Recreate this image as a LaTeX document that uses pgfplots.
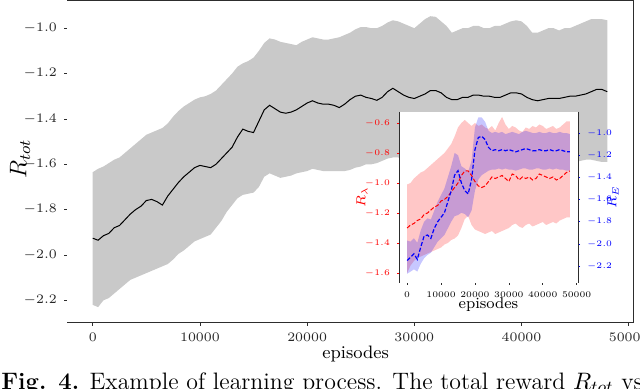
\RequirePackage{fix-cm}
\documentclass[border=0pt]{standalone}
\usepackage{pgfplots}
\pgfplotsset{compat=1.18}
\usepackage{pgfplotstable}
\usepgfplotslibrary{fillbetween}
\usetikzlibrary{calc}

\definecolor{bandgray}{RGB}{201,201,201}
\definecolor{spine}{RGB}{45,45,45}

% total reward: mean and band
\pgfplotstableread{
x m lo hi
0 -1.926 -2.22 -1.635
500 -1.935 -2.23 -1.62
1000 -1.915 -2.20 -1.61
1500 -1.905 -2.19 -1.595
2000 -1.880 -2.17 -1.58
2500 -1.870 -2.15 -1.57
3000 -1.845 -2.13 -1.55
3500 -1.820 -2.11 -1.53
4000 -1.800 -2.10 -1.51
4500 -1.785 -2.09 -1.49
5000 -1.760 -2.08 -1.47
5500 -1.755 -2.07 -1.46
6000 -1.765 -2.06 -1.45
6500 -1.780 -2.05 -1.44
7000 -1.740 -2.04 -1.42
7500 -1.710 -2.02 -1.39
8000 -1.680 -1.995 -1.365
8500 -1.655 -1.98 -1.345
9000 -1.635 -1.96 -1.33
9500 -1.615 -1.94 -1.315
10000 -1.605 -1.93 -1.305
10500 -1.610 -1.92 -1.30
11000 -1.615 -1.91 -1.29
11500 -1.600 -1.88 -1.275
12000 -1.575 -1.85 -1.25
12500 -1.550 -1.81 -1.225
13000 -1.525 -1.78 -1.20
13500 -1.480 -1.75 -1.17
14000 -1.445 -1.735 -1.155
14500 -1.455 -1.73 -1.145
15000 -1.460 -1.725 -1.13
15500 -1.410 -1.70 -1.10
16000 -1.360 -1.655 -1.065
16500 -1.340 -1.64 -1.045
17000 -1.355 -1.65 -1.05
17500 -1.370 -1.66 -1.06
18000 -1.375 -1.655 -1.065
18500 -1.370 -1.65 -1.07
19000 -1.360 -1.64 -1.075
19500 -1.345 -1.635 -1.06
20000 -1.330 -1.63 -1.05
20500 -1.320 -1.62 -1.04
21000 -1.330 -1.625 -1.045
21500 -1.335 -1.63 -1.05
22000 -1.335 -1.63 -1.05
22500 -1.340 -1.63 -1.045
23000 -1.350 -1.63 -1.04
23500 -1.335 -1.63 -1.03
24000 -1.315 -1.625 -1.02
24500 -1.300 -1.615 -1.005
25000 -1.295 -1.61 -0.995
25500 -1.305 -1.60 -0.995
26000 -1.310 -1.60 -1.00
26500 -1.318 -1.595 -1.00
27000 -1.305 -1.585 -0.99
27500 -1.280 -1.575 -0.975
28000 -1.265 -1.57 -0.965
28500 -1.280 -1.57 -0.97
29000 -1.295 -1.58 -0.98
29500 -1.305 -1.59 -0.99
30000 -1.310 -1.60 -1.00
30500 -1.300 -1.59 -0.98
31000 -1.290 -1.58 -0.96
31500 -1.275 -1.57 -0.947
32000 -1.275 -1.57 -0.95
32500 -1.285 -1.58 -0.97
33000 -1.305 -1.59 -0.99
33500 -1.315 -1.60 -1.02
34000 -1.315 -1.60 -1.01
34500 -1.305 -1.59 -1.00
35000 -1.305 -1.59 -1.00
35500 -1.295 -1.58 -0.99
36000 -1.295 -1.58 -0.99
36500 -1.300 -1.59 -1.00
37000 -1.300 -1.59 -1.00
37500 -1.305 -1.59 -0.99
38000 -1.305 -1.60 -0.99
38500 -1.295 -1.59 -0.98
39000 -1.285 -1.58 -0.97
39500 -1.285 -1.58 -0.965
40000 -1.290 -1.58 -0.97
40500 -1.305 -1.59 -0.99
41000 -1.315 -1.60 -1.02
41500 -1.320 -1.60 -1.02
42000 -1.315 -1.60 -1.01
42500 -1.310 -1.59 -1.00
43000 -1.310 -1.59 -1.00
43500 -1.310 -1.60 -1.01
44000 -1.305 -1.60 -1.00
44500 -1.300 -1.59 -1.00
45000 -1.300 -1.59 -0.99
45500 -1.295 -1.585 -0.98
46000 -1.290 -1.58 -0.97
46500 -1.280 -1.58 -0.96
47000 -1.270 -1.585 -0.96
47500 -1.270 -1.59 -0.96
48000 -1.280 -1.59 -0.965
}\maintab

% inset: R_lambda (r*) and R_E (b*)
\pgfplotstableread{
x rm rlo rhi bm blo bhi
0 -1.30 -1.60 -1.01 -2.15 -2.27 -1.97
1000 -1.28 -1.55 -1.00 -2.12 -2.25 -1.98
2000 -1.27 -1.52 -0.97 -2.09 -2.23 -1.95
3000 -1.25 -1.50 -0.95 -2.14 -2.25 -1.99
4000 -1.24 -1.49 -0.93 -2.03 -2.18 -1.88
5000 -1.21 -1.48 -0.92 -1.93 -2.13 -1.80
6000 -1.20 -1.47 -0.90 -1.92 -2.10 -1.77
7000 -1.18 -1.46 -0.88 -1.95 -2.08 -1.78
8000 -1.16 -1.45 -0.86 -1.86 -2.03 -1.70
9000 -1.15 -1.44 -0.84 -1.80 -1.98 -1.62
10000 -1.12 -1.43 -0.82 -1.76 -1.95 -1.56
11000 -1.11 -1.41 -0.80 -1.72 -1.92 -1.50
12000 -1.09 -1.40 -0.77 -1.62 -1.86 -1.40
13000 -1.06 -1.38 -0.74 -1.52 -1.80 -1.30
14000 -1.03 -1.37 -0.69 -1.38 -1.75 -1.18
15000 -1.00 -1.35 -0.63 -1.34 -1.74 -1.20
16000 -0.95 -1.30 -0.60 -1.45 -1.72 -1.30
17000 -0.92 -1.24 -0.58 -1.52 -1.73 -1.32
18000 -0.92 -1.22 -0.60 -1.55 -1.76 -1.35
19000 -0.95 -1.28 -0.62 -1.42 -1.70 -1.25
20000 -0.99 -1.31 -0.60 -1.15 -1.52 -0.95
21000 -1.02 -1.32 -0.62 -1.04 -1.42 -0.86
22000 -1.03 -1.33 -0.61 -1.03 -1.38 -0.86
23000 -1.02 -1.34 -0.63 -1.06 -1.36 -0.90
24000 -0.99 -1.33 -0.64 -1.13 -1.34 -0.98
25000 -0.96 -1.32 -0.62 -1.16 -1.33 -1.00
26000 -0.97 -1.34 -0.65 -1.15 -1.33 -0.99
27000 -0.96 -1.33 -0.60 -1.16 -1.32 -1.00
28000 -0.95 -1.32 -0.56 -1.15 -1.33 -0.99
29000 -0.97 -1.31 -0.61 -1.16 -1.32 -1.01
30000 -0.99 -1.30 -0.64 -1.15 -1.33 -1.00
31000 -0.94 -1.28 -0.62 -1.16 -1.33 -0.99
32000 -0.95 -1.27 -0.63 -1.17 -1.34 -1.00
33000 -0.98 -1.29 -0.65 -1.16 -1.33 -1.01
34000 -0.96 -1.30 -0.66 -1.15 -1.32 -0.99
35000 -0.97 -1.28 -0.63 -1.14 -1.32 -0.98
36000 -0.96 -1.27 -0.64 -1.15 -1.33 -0.99
37000 -0.98 -1.29 -0.62 -1.16 -1.33 -1.00
38000 -0.97 -1.28 -0.63 -1.16 -1.32 -1.00
39000 -0.94 -1.27 -0.61 -1.15 -1.32 -0.99
40000 -0.95 -1.26 -0.62 -1.16 -1.33 -1.00
41000 -0.96 -1.28 -0.64 -1.16 -1.33 -1.00
42000 -0.97 -1.27 -0.63 -1.15 -1.32 -0.99
43000 -0.96 -1.26 -0.62 -1.16 -1.33 -1.00
44000 -0.98 -1.27 -0.64 -1.16 -1.32 -1.00
45000 -0.97 -1.25 -0.63 -1.15 -1.33 -0.99
46000 -0.95 -1.24 -0.61 -1.16 -1.33 -1.00
47000 -0.93 -1.23 -0.59 -1.17 -1.34 -1.00
48000 -0.92 -1.23 -0.59 -1.17 -1.34 -1.01
}\insettab

\pgfplotsset{
  mpl/.style={
    scale only axis,
    anchor=south west,
    axis line style={draw=none},
    tick align=outside,
    scaled x ticks=false,
    xticklabel style={/pgf/number format/1000 sep={}},
    yticklabel style={/pgf/number format/fixed, /pgf/number format/fixed zerofill, /pgf/number format/precision=1},
  },
}

\begin{document}
\begin{tikzpicture}
\begin{axis}[mpl, name=main, at={(0pt,0pt)},
    width=283pt, height=161pt,
    xmin=-2400, xmax=50400, ymin=-2.30, ymax=-0.88,
    xtick={0,10000,20000,30000,40000,50000},
    ytick={-2.2,-2.0,-1.8,-1.6,-1.4,-1.2,-1.0},
    xtick pos=left, ytick pos=left,
    major tick length=1.5pt,
    tick style={spine, line width=0.4pt},
    tick label style={font=\fontsize{6.5}{7}\selectfont, text=black!85},
    xlabel={episodes},
    xlabel style={at={(axis description cs:0.51,-0.0963)}, anchor=center, font=\fontsize{9}{10}\selectfont},
    ylabel={$R_{tot}$},
    ylabel style={at={(axis description cs:-0.083,0.51)}, anchor=center, font=\fontsize{12}{13}\selectfont},
]
\addplot[name path=mhi, draw=none] table[x=x, y=hi] {\maintab};
\addplot[name path=mlo, draw=none] table[x=x, y=lo] {\maintab};
% lowest layer, so that the inset's white background covers it
\addplot[fill=bandgray, draw=none] fill between[of=mhi and mlo, on layer=axis background];
\addplot[black, line width=0.5pt] table[x=x, y=m] {\maintab};
\end{axis}
\draw[spine, line width=0.5pt] (main.north west) -- (main.north east) -- (main.south east) -- (main.south west);

% inset, left axis
\begin{axis}[mpl, name=inset, at={(166pt,20pt)},
    width=89.5pt, height=85.5pt,
    xmin=-2400, xmax=50400, ymin=-1.6667, ymax=-0.5267,
    axis background/.style={fill=white},
    xtick={0,10000,20000,30000,40000,50000},
    ytick={-1.6,-1.4,-1.2,-1.0,-0.8,-0.6},
    xtick pos=left, ytick pos=left,
    major tick length=1pt,
    xtick style={spine, line width=0.35pt},
    ytick style={red, line width=0.35pt},
    tick label style={font=\fontsize{4.3}{5}\selectfont},
    yticklabel style={text=red},
    xlabel={episodes},
    xlabel style={at={(axis description cs:0.5,-0.1287)}, anchor=center, font=\fontsize{7.8}{9}\selectfont},
    ylabel={$R_\lambda$},
    ylabel style={at={(axis description cs:-0.2067,0.5)}, anchor=center, text=red, font=\fontsize{6.5}{7}\selectfont},
]
\addplot[name path=rhi, draw=none] table[x=x, y=rhi] {\insettab};
\addplot[name path=rlo, draw=none] table[x=x, y=rlo] {\insettab};
\addplot[fill=red, fill opacity=0.22, draw=none] fill between[of=rhi and rlo];
\addplot[red, line width=0.5pt, dash pattern=on 2pt off 1pt] table[x=x, y=rm] {\insettab};
\end{axis}

% inset, right axis
\begin{axis}[mpl, name=insetr, at={(166pt,20pt)},
    width=89.5pt, height=85.5pt,
    xmin=-2400, xmax=50400, ymin=-2.353, ymax=-0.8105,
    xtick=\empty,
    ytick={-2.2,-2.0,-1.8,-1.6,-1.4,-1.2,-1.0},
    ytick pos=right, yticklabel pos=right,
    major tick length=1pt,
    ytick style={blue, line width=0.35pt},
    tick label style={font=\fontsize{4.3}{5}\selectfont},
    yticklabel style={text=blue},
    ylabel={$R_E$},
    ylabel style={at={(axis description cs:1.1955,0.5)}, anchor=center, text=blue, font=\fontsize{6.5}{7}\selectfont},
]
\addplot[name path=bhi, draw=none] table[x=x, y=bhi] {\insettab};
\addplot[name path=blo, draw=none] table[x=x, y=blo] {\insettab};
\addplot[fill=blue, fill opacity=0.22, draw=none] fill between[of=bhi and blo];
\addplot[blue, line width=0.6pt, dash pattern=on 2pt off 1pt] table[x=x, y=bm] {\insettab};
\end{axis}
\draw[spine, line width=0.5pt] (inset.north west) -- (inset.south west) (inset.north east) -- (inset.south east);

\node[anchor=base west, inner sep=0pt, font=\fontsize{11.9}{13}\selectfont] at (-33pt,-33pt)
  {\textbf{Fig. 4.} Example of learning process. The total reward $R_{tot}$ vs. the};

\pgfresetboundingbox
\useasboundingbox (-33.5pt,-33pt) rectangle (286.5pt,161.5pt);
\end{tikzpicture}
\end{document}
